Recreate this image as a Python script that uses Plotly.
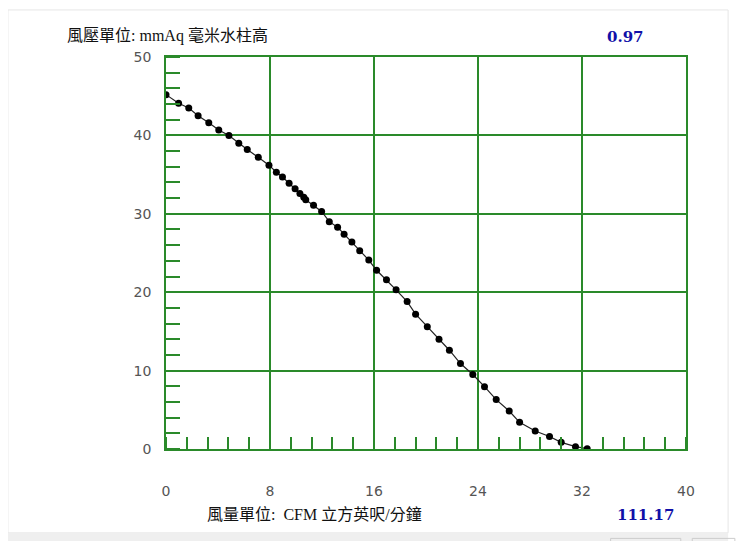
import plotly.graph_objects as go

# fan curve
flow_cfm = [0, 0.97, 1.75, 2.47, 3.29, 4.06, 4.84, 5.6, 6.25, 7.1, 7.92, 8.49, 8.96,
            9.47, 9.93, 10.3, 10.6, 10.75, 11.35, 11.97, 12.56, 13.2, 13.7, 14.3, 14.9,
            15.6, 16.2, 16.96, 17.7, 18.55, 19.2, 20.1, 21.0, 21.8, 22.65, 23.6, 24.5,
            25.4, 26.4, 27.2, 28.4, 29.5, 30.4, 31.5, 32.4]
pressure_mmaq = [45.2, 44.1, 43.5, 42.5, 41.6, 40.7, 40.0, 39.0, 38.2, 37.2, 36.2, 35.3,
                 34.7, 33.9, 33.2, 32.6, 32.1, 31.8, 31.1, 30.3, 29.0, 28.3, 27.4, 26.4,
                 25.3, 24.1, 22.8, 21.6, 20.3, 18.8, 17.2, 15.6, 14.0, 12.6, 10.9, 9.5,
                 7.95, 6.3, 4.85, 3.4, 2.3, 1.6, 0.85, 0.3, 0.04]

x_ticks = [0, 8, 16, 24, 32, 40]
y_ticks = [0, 10, 20, 30, 40, 50]

y_title = "風壓單位: mmAq 毫米水柱高"
x_title = "風量單位:  CFM 立方英呎/分鐘"
max_pressure = "0.97"
max_flow = "111.17"

GREEN = "#2a8a2a"
label_font = dict(family="DejaVu Sans", size=14, color="#555555")
title_font = dict(family="Liberation Serif, Noto Sans CJK TC", size=16, color="#111111")
value_font = dict(family="DejaVu Serif", size=15, color="#1010a8")

fig = go.Figure()
fig.add_trace(go.Scatter(
    x=flow_cfm, y=pressure_mmaq, mode="lines+markers",
    line=dict(color="#222222", width=1.2),
    marker=dict(color="black", size=7),
    hoverinfo="x+y", showlegend=False,
))

fig.update_xaxes(
    range=[0, 40], tickvals=x_ticks, ticks="", ticklabelstandoff=28,
    tickfont=label_font, showgrid=True, gridcolor=GREEN, gridwidth=1.5,
    showline=True, linecolor=GREEN, linewidth=1.5, mirror=True, zeroline=False,
    minor=dict(ticks="inside", ticklen=12, tickcolor=GREEN, tickwidth=1.5,
               dtick=1.6, showgrid=False),
)
fig.update_yaxes(
    range=[0, 50], tickvals=y_ticks, ticks="", ticklabelstandoff=10,
    tickfont=label_font, showgrid=True, gridcolor=GREEN, gridwidth=1.5,
    showline=True, linecolor=GREEN, linewidth=1.5, mirror=True, zeroline=False,
    minor=dict(ticks="inside", ticklen=14, tickcolor=GREEN, tickwidth=1.5,
               dtick=2, showgrid=False),
)

# outer frame of the panel and the strip below it
fig.add_shape(type="rect", xref="paper", yref="paper", x0=-0.304, x1=1.081,
              y0=-0.214, y1=1.12, line=dict(color="#e6e6e6", width=1), layer="below")
fig.add_shape(type="rect", xref="paper", yref="paper", x0=-0.32, x1=1.081,
              y0=-0.235, y1=-0.214, line=dict(width=0), fillcolor="#efefef", layer="below")
fig.add_shape(type="rect", xref="paper", yref="paper", x0=0.855, x1=0.99,
              y0=-0.26, y1=-0.228, line=dict(color="#cccccc", width=1), layer="below")
fig.add_shape(type="rect", xref="paper", yref="paper", x0=1.012, x1=1.094,
              y0=-0.26, y1=-0.228, line=dict(color="#cccccc", width=1), layer="below")

fig.add_annotation(text=y_title, xref="paper", yref="paper", x=-0.194, y=1.056,
                   xanchor="left", yanchor="middle", showarrow=False, font=title_font)
fig.add_annotation(text="<b>" + max_pressure + "</b>", xref="paper", yref="paper",
                   x=0.884, y=1.051, xanchor="center", yanchor="middle",
                   showarrow=False, font=value_font)
fig.add_annotation(text=x_title, xref="paper", yref="paper", x=0.075, y=-0.168,
                   xanchor="left", yanchor="middle", showarrow=False, font=title_font)
fig.add_annotation(text="<b>" + max_flow + "</b>", xref="paper", yref="paper",
                   x=0.922, y=-0.168, xanchor="center", yanchor="middle",
                   showarrow=False, font=value_font)

# the page adds an 8px body margin, so the figure is sized to fit inside it
fig.update_layout(
    width=747, height=533,
    margin=dict(l=158, r=69, t=49, b=92),
    paper_bgcolor="white", plot_bgcolor="white",
)

fig.write_html("out.html")
